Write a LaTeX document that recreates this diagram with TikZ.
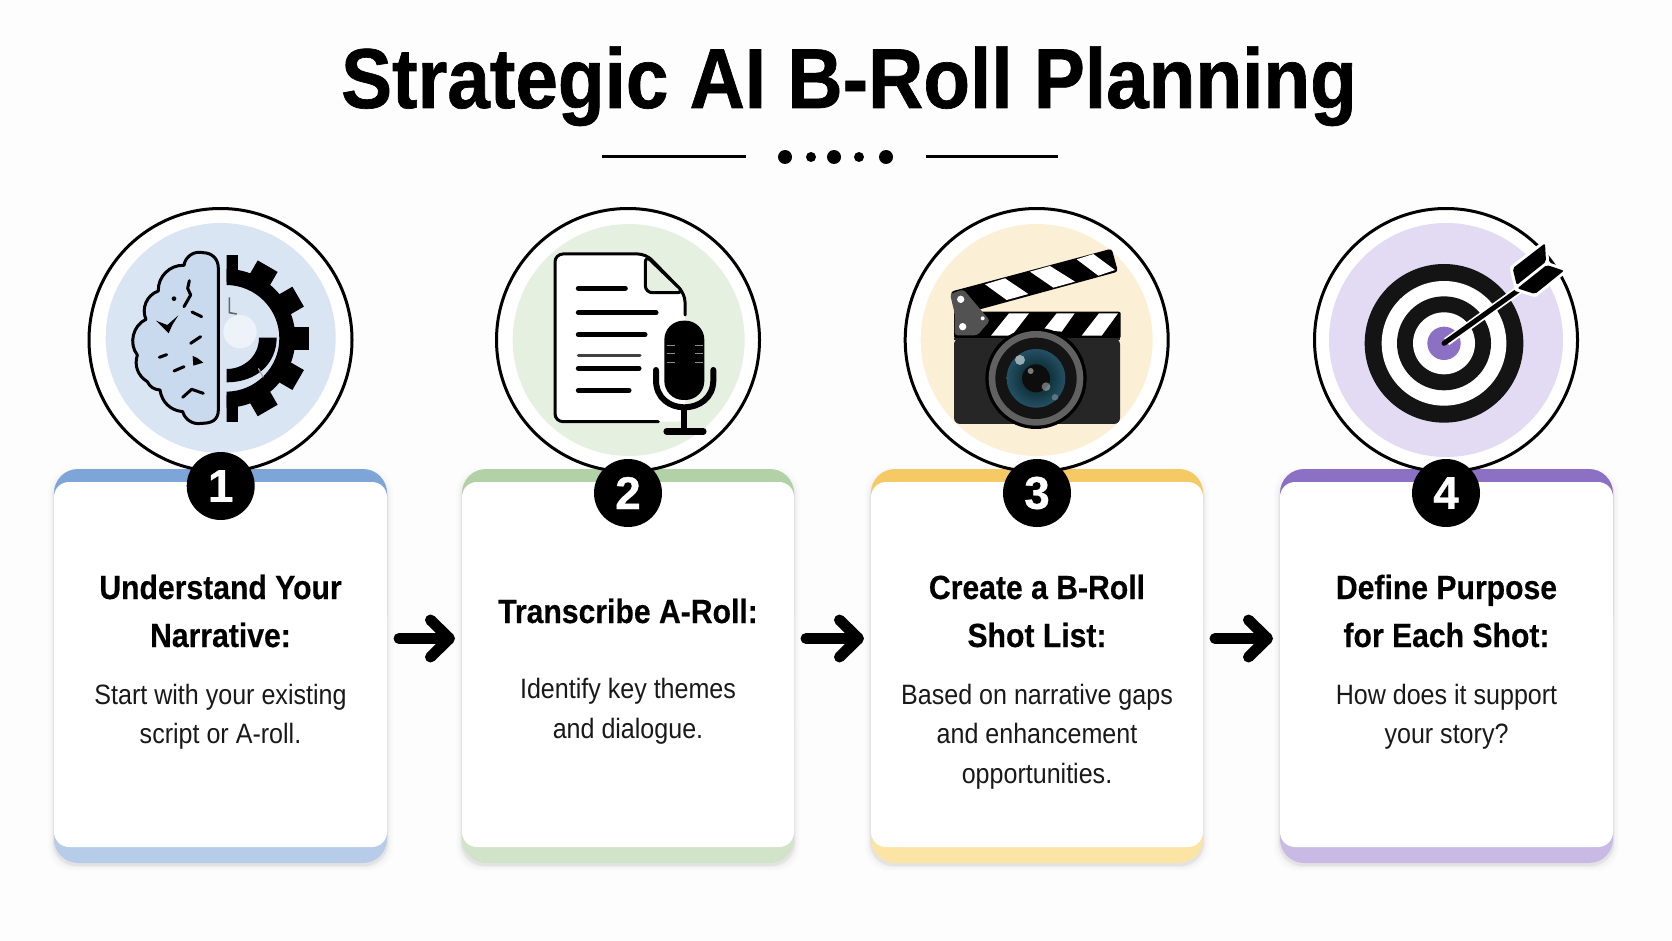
\documentclass[tikz,border=0pt]{standalone}
\usepackage{fontspec}
\setmainfont{Liberation Sans}
\newfontfamily\titlefont[FakeStretch=0.90,FakeBold=0.8]{Liberation Sans Bold}
\newfontfamily\badgefont[FakeBold=0.6]{Liberation Sans Bold}
\newfontfamily\headfont[FakeStretch=0.90,FakeBold=0.35]{Liberation Sans Bold}
\newfontfamily\bodyfont[FakeStretch=0.895]{Liberation Sans}
\usetikzlibrary{arrows.meta,calc}
\definecolor{pagebg}{HTML}{FDFDFD}
\definecolor{topA}{HTML}{7EA5D8}\definecolor{botA}{HTML}{B7CCE9}\definecolor{discA}{HTML}{DAE5F3}\definecolor{brainfill}{HTML}{C9DAEE}
\definecolor{topB}{HTML}{B2D1A6}\definecolor{botB}{HTML}{D1E3C8}\definecolor{discB}{HTML}{E6F0E1}
\definecolor{topC}{HTML}{F5C963}\definecolor{botC}{HTML}{FBE4A4}\definecolor{discC}{HTML}{FBF0D6}
\definecolor{topD}{HTML}{8B70C4}\definecolor{botD}{HTML}{C9BAE5}\definecolor{discD}{HTML}{E3DBF3}
\tikzset{
  cardbody/.style={fill=white,rounded corners=15pt,minimum width=333pt,minimum height=365pt,inner sep=0pt,outer sep=0pt},
  ringc/.style={circle,draw=black,line width=3pt,fill=white,minimum size=263pt,inner sep=0pt},
  badge/.style={circle,fill=black,text=white,minimum size=68pt,inner sep=0pt,font=\fontsize{46}{46}\badgefont},
  headtxt/.style={font=\fontsize{33.5}{33.5}\headfont,text=black,inner sep=0pt,anchor=base},
  bodytxt/.style={font=\fontsize{28}{28}\bodyfont,text=black!90,inner sep=0pt,anchor=base},
  flow/.style={line width=11pt,line cap=round,-{Straight Barb[length=19pt,width=37pt,line cap=round,round]}},
  zoomed/.style={x=0.33333pt,y=-0.33333pt}
}
\newcommand{\cardshadow}[4]{%
  \foreach \e/\o in {6/.012,4/.02,2/.03,1/.04}{
    \fill[black,opacity=\o,rounded corners=24pt] (#1-\e,469-\e+5) rectangle (#2+\e,863+\e+2);
  }
  \fill[#3,rounded corners=24pt] (#1,469) rectangle (#2,640);
  \fill[#4,rounded corners=24pt] (#1,700) rectangle (#2,863);
}
\begin{document}
\begin{tikzpicture}[x=1pt,y=-1pt]
\useasboundingbox (0,0) rectangle (1672,941);
\fill[pagebg] (0,0) rectangle (1672,941);

% title
\node[font=\fontsize{85}{85}\titlefont,inner sep=0pt,anchor=base] (title) at (849,108) {Strategic AI B-Roll Planning};
% divider
\draw[line width=3pt] (602,157) -- (746,157);
\draw[line width=3pt] (926,157) -- (1058,157);
\foreach \x/\r in {785/7,811/5,834/7,859/5,886/7}{\fill[black] (\x,157) circle[radius=\r pt];}

% cards
\cardshadow{54}{387}{topA}{botA}
\cardshadow{462}{794}{topB}{botB}
\cardshadow{871}{1203}{topC}{botC}
\cardshadow{1280}{1613}{topD}{botD}
\node[cardbody] (card1) at (220.5,664.5) {};
\node[cardbody,minimum width=332pt] (card2) at (628,664.5) {};
\node[cardbody,minimum width=332pt] (card3) at (1037,664.5) {};
\node[cardbody] (card4) at (1446.5,664.5) {};

% rings
\node[ringc] (ring1) at (220.5,340) {};
\node[ringc] (ring2) at (628,340) {};
\node[ringc] (ring3) at (1036.7,340) {};
\node[ringc] (ring4) at (1446,340) {};
\fill[discA] (220.7,338) circle[radius=115pt];
\fill[discB] (628.7,340) circle[radius=116pt];
\fill[discC] (1036.7,340) circle[radius=116pt];
\fill[discD] (1446,340) circle[radius=117pt];

% ---- icon 1: brain and gear
\begin{scope}[shift={(60,190)},zoomed]
  \fill[white!55!discA] (540,425) circle[radius=50];
  \begin{scope}
    \clip (500,150) rectangle (800,750);
    \begin{scope}[shift={(498,445)}]
      \foreach \a in {-90,-60,-30,0,30,60,90}{
        \draw[line width=23pt,black] (\a:170) -- (\a:250);
      }
      \fill[black,even odd rule] (0,0) circle[radius=208] (0,0) circle[radius=160];
    \end{scope}
  \end{scope}
  \fill[black] (500,537) .. controls (550,537) and (597,500) .. (597,443) -- (650,443)
     .. controls (650,520) and (590,577) .. (500,577) -- cycle;
  \draw[line width=1.6pt,black!60] (508,322) -- (508,368) -- (530,372);
  \draw[line width=1.2pt,black!35] (595,535) -- (610,562);
  \draw[brainfill,fill=brainfill,draw=black,line width=3pt,line join=round]
    (475,660) -- (475,235) .. controls (475,205) and (455,188) .. (428,188)
    to[bend right=48] (372,226) to[bend right=48] (295,303)
    to[bend right=48] (258,388) to[bend right=52] (232,495)
    to[bend right=38] (262,575) to[bend right=30] (300,600)
    to[bend right=38] (368,665) to[bend right=42] (425,700)
    .. controls (455,700) and (475,690) .. (475,660) -- cycle;
  \begin{scope}[line width=3pt,line cap=round,line join=round,black]
    \draw (388,272) -- (383,295) -- (392,315) -- (372,350);
    \fill (342,326) circle[radius=7];
    \draw (396,366) -- (425,380);
    \fill (288,392) -- (322,405) -- (355,376) -- (337,405) -- (326,430) -- cycle;
    \draw (392,460) -- (422,440);
    \draw (298,502) -- (320,494);
    \fill (398,498) -- (412,504) -- (430,518) -- (400,527) -- cycle;
    \draw (342,543) -- (372,530);
    \draw (368,622) -- (395,598) -- (430,610);
  \end{scope}
\end{scope}

% ---- icon 2: document and microphone
\begin{scope}[shift={(470,190)},zoomed]
  \fill[white,rounded corners=8pt] (255,192) -- (528,192) -- (645,310) -- (645,695) -- (255,695) -- cycle;
  \draw[black,line width=3pt,line cap=round,line join=round,rounded corners=8pt]
     (645,375) -- (645,312) -- (528,192) -- (255,192) -- (255,695) -- (565,695);
  \draw[black,fill=discB,line width=3pt,line join=round,rounded corners=7pt]
     (526,196) -- (526,308) -- (642,308) -- cycle;
  \begin{scope}[black,line cap=round,line width=5pt]
    \draw (325,295) -- (466,295);
    \draw (325,368) -- (558,368);
    \draw (325,434) -- (525,434);
    \draw[line width=3pt,black!75] (325,498) -- (510,498);
    \draw (325,535) -- (507,535);
    \draw (325,601) -- (477,601);
  \end{scope}
  \fill[black,rounded corners=19pt] (583,392) rectangle (703,630);
  \foreach \y in {465,490,518}{
    \draw[black!45,line width=.8pt] (590,\y) -- (615,\y);
    \draw[black!45,line width=.8pt] (675,\y) -- (700,\y);
  }
  \draw[black,line width=6pt,line cap=round] (558,540) -- (558,570) .. controls (558,625) and (600,652) .. (643,652)
     .. controls (686,652) and (730,625) .. (730,570) -- (730,540);
  \draw[black,line width=6pt] (643,652) -- (643,722);
  \draw[black,line width=6.5pt,line cap=round] (590,724) -- (700,724);
\end{scope}

% ---- icon 3: clapperboard camera
\begin{scope}[shift={(880,190)},zoomed]
  \fill[black,rounded corners=3pt] (212,305) -- (695,176) -- (714,245) -- (300,358) -- (225,365) -- cycle;
  \fill[white] (315,283) -- (375,265) -- (445,312) -- (380,330) -- cycle;
  \fill[white] (450,245) -- (510,228) -- (585,275) -- (520,293) -- cycle;
  \fill[white] (590,208) -- (640,192) -- (705,240) -- (655,257) -- cycle;
  \fill[black,rounded corners=2pt] (222,365) rectangle (722,445);
  \fill[white] (333,437) -- (387,370) -- (447,370) -- (395,437) -- cycle;
  \fill[white] (490,420) -- (530,370) -- (584,370) -- (545,425) -- cycle;
  \fill[white] (605,437) -- (657,370) -- (714,370) -- (665,437) -- cycle;
  \fill[black!68,rounded corners=3pt] (210,312) -- (250,298) -- (330,392) -- (292,436) -- (224,436) -- (224,370) -- cycle;
  \fill[white] (242,328) circle[radius=11];
  \fill[white] (248,410) circle[radius=11];
  \fill[white] (308,385) circle[radius=6];
  \fill[black!85,rounded corners=6pt] (222,445) rectangle (720,702);
  \fill[black!85!white] (222,443) rectangle (720,450);
  \fill[black] (468,565) circle[radius=152];
  \fill[black!62] (468,565) circle[radius=142];
  \fill[black!92] (468,565) circle[radius=122];
  \shade[inner color=black!90!cyan,outer color={rgb,255:red,36;green,80;blue,100}] (468,565) circle[radius=88];
  \fill[black!95] (468,565) circle[radius=42];
  \fill[white,opacity=.55] (420,510) circle[radius=15];
  \fill[white,opacity=.45] (452,543) circle[radius=9];
  \fill[white,opacity=.4] (498,590) circle[radius=13];
  \fill[white,opacity=.25] (525,622) circle[radius=10];
\end{scope}

% ---- icon 4: target and dart
\begin{scope}[shift={(1290,190)},zoomed]
  \fill[black!92] (462,460) circle[radius=238];
  \fill[white] (462,460) circle[radius=187];
  \fill[black!92] (462,460) circle[radius=141];
  \fill[white] (462,460) circle[radius=93];
  \fill[topD] (462,460) circle[radius=50];
  \draw[white,line width=8.5pt] (470,455) -- (700,290);
  \draw[black,line width=5pt,line cap=round] (462,460) -- (700,290);
  \draw[white,line width=6pt,line join=round] (668,235) -- (765,160) -- (768,215) -- (680,285) -- cycle;
  \draw[white,line width=6pt,line join=round] (680,295) -- (770,225) -- (822,242) -- (735,312) -- cycle;
  \fill[black,rounded corners=2pt] (668,235) -- (765,160) -- (768,215) -- (680,285) -- cycle;
  \fill[black,rounded corners=2pt] (682,295) -- (770,225) -- (822,242) -- (735,312) -- cycle;
\end{scope}

% badges
\node[badge] (b1) at (220.7,486) {1};
\node[badge] (b2) at (628,493) {2};
\node[badge] (b3) at (1037,493) {3};
\node[badge] (b4) at (1446,493) {4};

% texts
\node[headtxt] (t1a) at (220.5,599) {Understand Your};
\node[headtxt] (t1b) at (220.5,647) {Narrative:};
\node[bodytxt] (d1a) at (220.5,704) {Start with your existing};
\node[bodytxt] (d1b) at (220.5,743) {script or A-roll.};
\node[headtxt] (t2a) at (628,623) {Transcribe A-Roll:};
\node[bodytxt] (d2a) at (628,698) {Identify key themes};
\node[bodytxt] (d2b) at (628,738) {and dialogue.};
\node[headtxt] (t3a) at (1037,599) {Create a B-Roll};
\node[headtxt] (t3b) at (1037,647) {Shot List:};
\node[bodytxt] (d3a) at (1037,704) {Based on narrative gaps};
\node[bodytxt] (d3b) at (1037,743) {and enhancement};
\node[bodytxt] (d3c) at (1037,783) {opportunities.};
\node[headtxt] (t4a) at (1446.5,599) {Define Purpose};
\node[headtxt] (t4b) at (1446.5,647) {for Each Shot:};
\node[bodytxt] (d4a) at (1446.5,704) {How does it support};
\node[bodytxt] (d4b) at (1446.5,743) {your story?};

% connectors
\draw[flow,shorten <=12pt,shorten >=7pt] ([yshift=26pt]card1.east) -- ([yshift=26pt]card2.west);
\draw[flow,shorten <=12pt,shorten >=7pt] ([yshift=26pt]card2.east) -- ([yshift=26pt]card3.west);
\draw[flow,shorten <=12pt,shorten >=7pt] ([yshift=26pt]card3.east) -- ([yshift=26pt]card4.west);
\end{tikzpicture}
\end{document}
